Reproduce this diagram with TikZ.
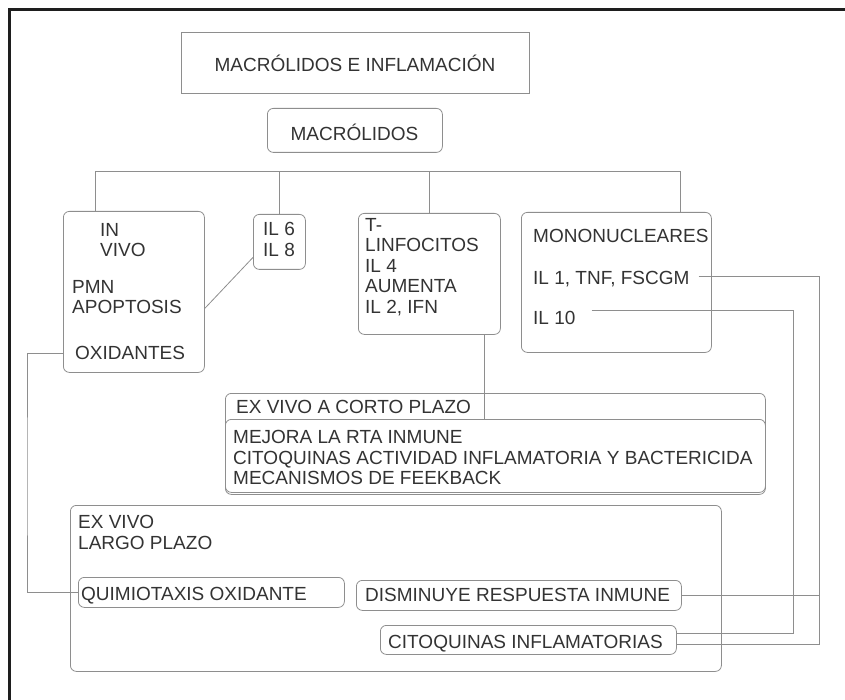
\documentclass[tikz,border=0pt]{standalone}
\usepackage{fontspec}
\setmainfont{Liberation Sans}
\definecolor{gris}{HTML}{8E8E8E}
\definecolor{letra}{HTML}{333333}
\definecolor{marco}{HTML}{1E1E1E}

\begin{document}
\begin{tikzpicture}[x=1pt,y=-1pt]
  \tikzstyle{caja}=[draw=gris,line width=0.8pt,rounded corners=6pt,anchor=north west,inner sep=0pt]
  \tikzstyle{texto}=[text=letra,font=\fontsize{19}{20.5}\selectfont,inner sep=0pt,anchor=west,text height=13.6pt,text depth=0pt]
  \tikzstyle{bloque}=[text=letra,font=\fontsize{19}{20.5}\selectfont,inner sep=0pt,anchor=north west,align=left]
  \tikzstyle{conector}=[draw=gris,line width=0.8pt]
  \useasboundingbox (0,0) rectangle (845,700);
  \draw[marco,line width=3pt] (9.5,700) -- (9.5,9.5) -- (845,9.5);

  % cajas
  \node[caja,sharp corners,minimum width=348pt,minimum height=61pt] (titulo) at (181,32) {};
  \node[caja,minimum width=175pt,minimum height=44pt] (macro) at (267,108) {};
  \node[caja,minimum width=141pt,minimum height=161pt] (invivo) at (63,211) {};
  \node[caja,minimum width=52pt,minimum height=55pt] (il) at (253,214) {};
  \node[caja,minimum width=142pt,minimum height=121pt] (tlinf) at (358,213) {};
  \node[caja,minimum width=190pt,minimum height=140pt] (mono) at (521,212) {};
  \node[caja,minimum width=540pt,minimum height=101pt] (corto) at (225,393) {};
  \node[caja,minimum width=540pt,minimum height=73pt] (mejora) at (225,419) {};
  \node[caja,minimum width=651pt,minimum height=166pt] (largo) at (70,505) {};
  \node[caja,minimum width=266pt,minimum height=30pt] (quimio) at (78,577) {};
  \node[caja,minimum width=325pt,minimum height=30pt] (dismin) at (356,580) {};
  \node[caja,minimum width=296pt,minimum height=29pt] (citoq) at (380,625) {};

  % textos
  \node[texto,anchor=center] (tituloT) at (355,65) {MACRÓLIDOS E INFLAMACIÓN};
  \node[texto,anchor=center] (macroT) at (354.5,134) {MACRÓLIDOS};
  \node[bloque] (inT) at (100,223.2) {IN\\VIVO};
  \node[bloque] (pmnT) at (72,280.2) {PMN\\APOPTOSIS};
  \node[texto] (oxidT) at (75,353) {OXIDANTES};
  \node[bloque] (ilT) at (263,222.2) {IL 6\\IL 8};
  \node[bloque] (tlinfT) at (365,218.2) {T-\\LINFOCITOS\\IL 4\\AUMENTA\\IL 2, IFN};
  \node[texto] (monoT) at (533,236) {MONONUCLEARES};
  \node[texto] (il1T) at (533,278) {IL 1, TNF, FSCGM};
  \node[texto] (il10T) at (533,318) {IL 10};
  \node[texto] (cortoT) at (236,407) {EX VIVO A CORTO PLAZO};
  \node[bloque] (mejoraT) at (233,430.2) {MEJORA LA RTA INMUNE\\CITOQUINAS ACTIVIDAD INFLAMATORIA Y BACTERICIDA\\MECANISMOS DE FEEKBACK};
  \node[bloque] (largoT) at (78,515.2) {EX VIVO\\LARGO PLAZO};
  \node[texto] (quimioT) at (81,594) {QUIMIOTAXIS OXIDANTE};
  \node[texto] (disminT) at (365,595) {DISMINUYE RESPUESTA INMUNE};
  \node[texto] (citoqT) at (388,642) {CITOQUINAS INFLAMATORIAS};

  % conectores
  \coordinate (barraI) at (95,171);
  \coordinate (barraD) at (680,171);
  \coordinate (retorno) at (27,480);
  \coordinate (bajada) at ([xshift=-16pt]tlinf.south east);
  \coordinate (rielA) at (819,644);
  \coordinate (rielB) at (793,633);
  \draw[conector] (barraI |- invivo.north) -- (barraI) -- (barraD) -- (barraD |- mono.north);
  \draw[conector] (il.north) -- (il.north |- barraI);
  \draw[conector] (tlinf.north) -- (tlinf.north |- barraI);
  \draw[conector] ([yshift=-16.5pt]invivo.east) -- ([yshift=-15.5pt]il.west);
  \draw[conector] (oxidT.west -| invivo.west) -| (retorno) |- (quimio.west);
  \draw[conector] (bajada) -- (bajada |- mejora.north);
  \draw[conector] ([xshift=9pt,yshift=2pt]il1T.east) -| (rielA) -- (rielA -| citoq.east);
  \draw[conector] ([xshift=16pt,yshift=8pt]il10T.east) -| (rielB) -- (rielB -| citoq.east);
  \draw[conector] (dismin.east) -- (dismin.east -| rielA);
\end{tikzpicture}
\end{document}
